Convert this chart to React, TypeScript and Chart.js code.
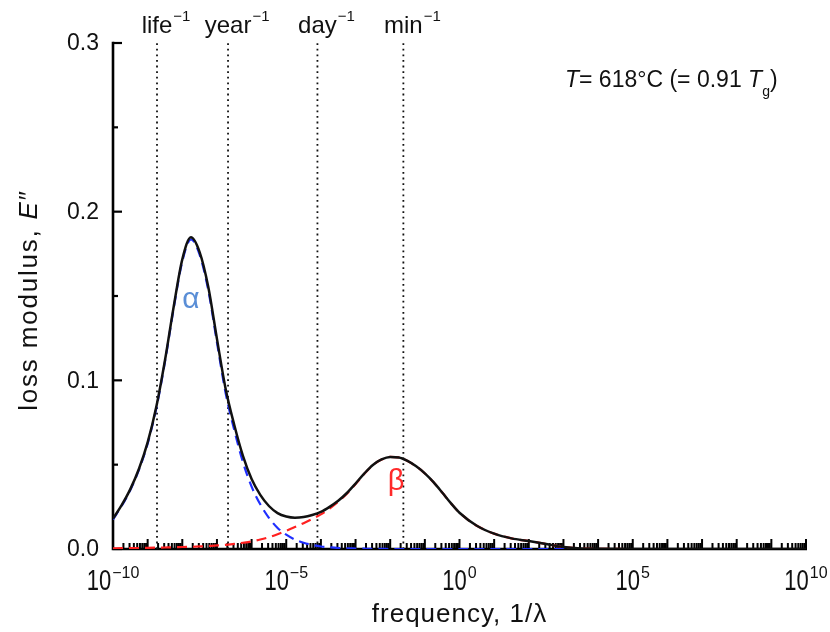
import React, { useEffect, useRef } from "react";
import { Chart, registerables } from "chart.js";

Chart.register(...registerables);

// log10 of frequency (1/λ)
const logFreq = [
  -10, -9.75, -9.5, -9.25, -9, -8.75, -8.5, -8.25, -8, -7.75, -7.5, -7.25, -7, -6.75, -6.5, -6.25,
  -6, -5.75, -5.5, -5.25, -5, -4.75, -4.5, -4.25, -4, -3.75, -3.5, -3.25, -3, -2.75, -2.5, -2.25,
  -2, -1.75, -1.5, -1.25, -1, -0.75, -0.5, -0.25, 0, 0.5, 1, 1.5, 2, 2.5, 3, 3.5, 4, 5, 6, 7, 8, 9, 10,
];

// α relaxation (blue dashed)
const alphaLoss = [
  0.0175, 0.0255, 0.035, 0.047, 0.0625, 0.0835, 0.111, 0.1425, 0.1705, 0.1835, 0.1745, 0.1535, 0.1225, 0.0925, 0.0705, 0.0515,
  0.037, 0.0265, 0.0185, 0.0125, 0.0085, 0.0056, 0.0037, 0.0024, 0.0015, 0.001, 0.0006, 0.0004, 0.0003, 0.0002, 0.0001, 0.0001,
  0, 0, 0, 0, 0, 0, 0, 0, 0, 0, 0, 0, 0, 0, 0, 0, 0, 0, 0, null, null, null, null,
];

// β relaxation (red dashed)
const betaLoss = [
  0.0004, 0.0005, 0.0005, 0.0006, 0.0007, 0.0008, 0.0009, 0.001, 0.0012, 0.0013, 0.0015, 0.0018, 0.0021, 0.0025, 0.003, 0.0037,
  0.0045, 0.0056, 0.007, 0.0088, 0.0108, 0.013, 0.0153, 0.0178, 0.0205, 0.024, 0.028, 0.0328, 0.0385, 0.0445, 0.0497, 0.053,
  0.0546, 0.0543, 0.0522, 0.049, 0.0448, 0.0396, 0.0335, 0.0272, 0.0215, 0.0138, 0.0091, 0.0063, 0.0047, 0.003, 0.0012, 0.0003,
  0.0001, 0, 0, 0, null, null, null,
];

// total loss modulus (black)
const totalLoss = [
  0.018, 0.026, 0.0355, 0.0476, 0.0632, 0.0843, 0.1119, 0.1435, 0.1717, 0.1848, 0.176, 0.1553, 0.1246, 0.095, 0.0735, 0.0552,
  0.0415, 0.0321, 0.0255, 0.0213, 0.0193, 0.0186, 0.019, 0.0202, 0.022, 0.025, 0.0286, 0.0332, 0.0388, 0.0447, 0.0498, 0.0531,
  0.0546, 0.0543, 0.0522, 0.049, 0.0448, 0.0396, 0.0335, 0.0272, 0.0215, 0.0138, 0.0091, 0.0063, 0.0047, 0.003, 0.0012, 0.0003,
  0.0001, 0, 0, 0, 0, 0, 0,
];

// time-scale markers (log10 of frequency)
const markerExps = [-8.73, -6.68, -4.1, -1.62];
const markerLabels = ["life", "year", "day", "min"];

const xLabelExps = [-10, -5, 0, 5, 10];
const yTickValues = [0, 0.05, 0.1, 0.15, 0.2, 0.25, 0.3];
const yLabelValues = [0, 0.1, 0.2, 0.3];

const FONT = '"Liberation Sans", Arial, Helvetica, sans-serif';

function drawRuns(
  ctx: CanvasRenderingContext2D,
  runs: { t: string; f: string; dy?: number }[],
  x: number,
  y: number,
  align: "left" | "center"
) {
  let w = 0;
  for (const r of runs) {
    ctx.font = r.f;
    w += ctx.measureText(r.t).width;
  }
  let cx = align === "center" ? x - w / 2 : x;
  ctx.textAlign = "left";
  for (const r of runs) {
    ctx.font = r.f;
    ctx.fillText(r.t, cx, y + (r.dy || 0));
    cx += ctx.measureText(r.t).width;
  }
}

const decorPlugin = {
  id: "decor",
  beforeDatasetsDraw(chart: any) {
    const { ctx, chartArea, scales } = chart;
    const { left, right, top, bottom } = chartArea;
    const x = scales.x;
    const y = scales.y;
    ctx.save();
    ctx.strokeStyle = "#000";
    ctx.lineCap = "butt";
    ctx.lineWidth = 2;
    for (const t of x.ticks) {
      const px = x.getPixelForValue(t.value);
      const e = Math.log10(t.value);
      const major = Math.abs(e - Math.round(e)) < 1e-6;
      const len = major ? 10 : 6;
      ctx.beginPath();
      ctx.moveTo(px, bottom);
      ctx.lineTo(px, bottom - len);
      ctx.stroke();
    }
    ctx.lineWidth = 2.2;
    for (const t of y.ticks) {
      const py = y.getPixelForValue(t.value);
      const major = Math.abs(t.value * 10 - Math.round(t.value * 10)) < 1e-6;
      const len = major ? 9 : 5;
      ctx.beginPath();
      ctx.moveTo(left, py);
      ctx.lineTo(left + len, py);
      ctx.stroke();
    }
    ctx.lineWidth = 2.6;
    ctx.beginPath();
    ctx.moveTo(left, top - 1.2);
    ctx.lineTo(left, bottom);
    ctx.lineTo(right + 1, bottom);
    ctx.stroke();
    ctx.restore();
  },
  afterDatasetsDraw(chart: any) {
    const { ctx, chartArea, scales } = chart;
    const { left, right, top, bottom } = chartArea;
    const x = scales.x;
    const y = scales.y;
    ctx.save();
    ctx.fillStyle = "#111";

    // y labels
    ctx.font = `23px ${FONT}`;
    ctx.textAlign = "right";
    ctx.textBaseline = "middle";
    for (const v of yLabelValues) {
      ctx.fillText(v.toFixed(1), left - 14, y.getPixelForValue(v) + 1);
    }
    ctx.textBaseline = "alphabetic";

    // x labels: 10^n
    for (const e of xLabelExps) {
      const px = x.getPixelForValue(Math.pow(10, e));
      const base = "10";
      const sup = e < 0 ? "\u2212" + Math.abs(e) : String(e);
      ctx.font = `22px ${FONT}`;
      const w1 = ctx.measureText(base).width;
      ctx.font = `16px ${FONT}`;
      const w2 = ctx.measureText(sup).width;
      const sx = px - (w1 + w2 + 1) / 2;
      ctx.save();
      ctx.translate(sx, 590);
      ctx.scale(1, 1.3);
      ctx.font = `22px ${FONT}`;
      ctx.textAlign = "left";
      ctx.fillText(base, 0, 0);
      ctx.restore();
      ctx.font = `16px ${FONT}`;
      ctx.textAlign = "left";
      ctx.fillText(sup, sx + w1 + 1, 578);
    }

    // x title
    ctx.font = `26px ${FONT}`;
    ctx.textAlign = "center";
    (ctx as any).letterSpacing = "1px";
    ctx.fillText("frequency, 1/\u03bb", (left + right) / 2, 622);

    // y title
    ctx.save();
    (ctx as any).letterSpacing = "1.8px";
    ctx.translate(37, (top + bottom) / 2 + 4);
    ctx.rotate(-Math.PI / 2);
    drawRuns(
      ctx,
      [
        { t: "loss modulus, ", f: `26px ${FONT}` },
        { t: "E", f: `italic 26px ${FONT}` },
        { t: "\u2033", f: `26px ${FONT}` },
      ],
      0,
      0,
      "center"
    );
    ctx.restore();
    (ctx as any).letterSpacing = "0px";

    // time-scale marker labels
    markerLabels.forEach((lab, i) => {
      const px = x.getPixelForValue(Math.pow(10, markerExps[i]));
      ctx.font = `24px ${FONT}`;
      ctx.textAlign = "center";
      const w = ctx.measureText(lab).width;
      ctx.fillText(lab, px, 33);
      ctx.font = `15px ${FONT}`;
      ctx.textAlign = "left";
      ctx.fillText("\u22121", px + w / 2 + 1, 21);
    });

    // temperature annotation
    drawRuns(
      ctx,
      [
        { t: "T", f: `italic 23px ${FONT}` },
        { t: "= 618\u00b0C (= 0.91 ", f: `23px ${FONT}` },
        { t: "T", f: `italic 23px ${FONT}` },
        { t: "g", f: `14px ${FONT}`, dy: 9 },
        { t: ")", f: `23px ${FONT}` },
      ],
      565,
      87,
      "left"
    );

    // α, β labels
    ctx.textAlign = "center";
    ctx.textBaseline = "middle";
    ctx.font = `30px ${FONT}`;
    ctx.fillStyle = "#5a8ed6";
    ctx.fillText("\u03b1", x.getPixelForValue(Math.pow(10, -7.75)), y.getPixelForValue(0.1476));
    ctx.font = `29px ${FONT}`;
    ctx.fillStyle = "#ff2a2a";
    ctx.fillText("\u03b2", x.getPixelForValue(Math.pow(10, -1.83)), y.getPixelForValue(0.040));
    ctx.restore();
  },
};

export default function App() {
  const ref = useRef<HTMLCanvasElement | null>(null);
  useEffect(() => {
    if (!ref.current) return;
    const pts = (vals: (number | null)[]) =>
      logFreq.map((e, i) => ({ x: Math.pow(10, e), y: vals[i] }));
    const markerSets = markerExps.map((e) => ({
      data: [
        { x: Math.pow(10, e), y: 0 },
        { x: Math.pow(10, e), y: 0.3 },
      ],
      borderColor: "#111",
      borderWidth: 1.8,
      borderDash: [1.8, 3.8],
      pointRadius: 0,
      order: 3,
    }));
    const chart = new Chart(ref.current, {
      type: "line",
      data: {
        datasets: [
          {
            data: pts(totalLoss),
            borderColor: "#111",
            borderWidth: 2.5,
            pointRadius: 0,
            cubicInterpolationMode: "monotone",
            order: 0,
          },
          {
            data: pts(alphaLoss),
            borderColor: "#1f2fff",
            borderWidth: 2.2,
            borderDash: [10, 6],
            pointRadius: 0,
            cubicInterpolationMode: "monotone",
            order: 1,
          },
          {
            data: pts(betaLoss),
            borderColor: "#ff2020",
            borderWidth: 2.2,
            borderDash: [10, 6],
            pointRadius: 0,
            cubicInterpolationMode: "monotone",
            order: 1,
          },
          ...markerSets,
        ] as any,
      },
      options: {
        animation: false,
        responsive: false,
        maintainAspectRatio: false,
        parsing: false as any,
        layout: { padding: { left: 0, right: 24, top: 43, bottom: 0 } },
        plugins: { legend: { display: false }, tooltip: { enabled: false } },
        scales: {
          x: {
            type: "logarithmic",
            min: 1e-10,
            max: 1e10,
            grid: { display: false },
            border: { display: false },
            ticks: { display: false },
            afterBuildTicks: (s: any) => {
              const ticks: { value: number }[] = [];
              for (let e = -10; e <= 10; e++) {
                ticks.push({ value: Math.pow(10, e) });
                if (e < 10) for (let m = 2; m <= 9; m++) ticks.push({ value: m * Math.pow(10, e) });
              }
              s.ticks = ticks;
            },
            afterFit: (s: any) => {
              s.height = 83;
            },
          },
          y: {
            type: "linear",
            min: 0,
            max: 0.3,
            grid: { display: false },
            border: { display: false },
            ticks: { display: false },
            afterBuildTicks: (s: any) => {
              s.ticks = yTickValues.map((v) => ({ value: v }));
            },
            afterFit: (s: any) => {
              s.width = 113;
            },
          },
        },
      } as any,
      plugins: [decorPlugin],
    });
    return () => chart.destroy();
  }, []);
  return (
    <div style={{ position: "fixed", left: 0, top: 0, width: 830, height: 632, background: "#fff" }}>
      <canvas ref={ref} width={830} height={632} style={{ display: "block" }} />
    </div>
  );
}
